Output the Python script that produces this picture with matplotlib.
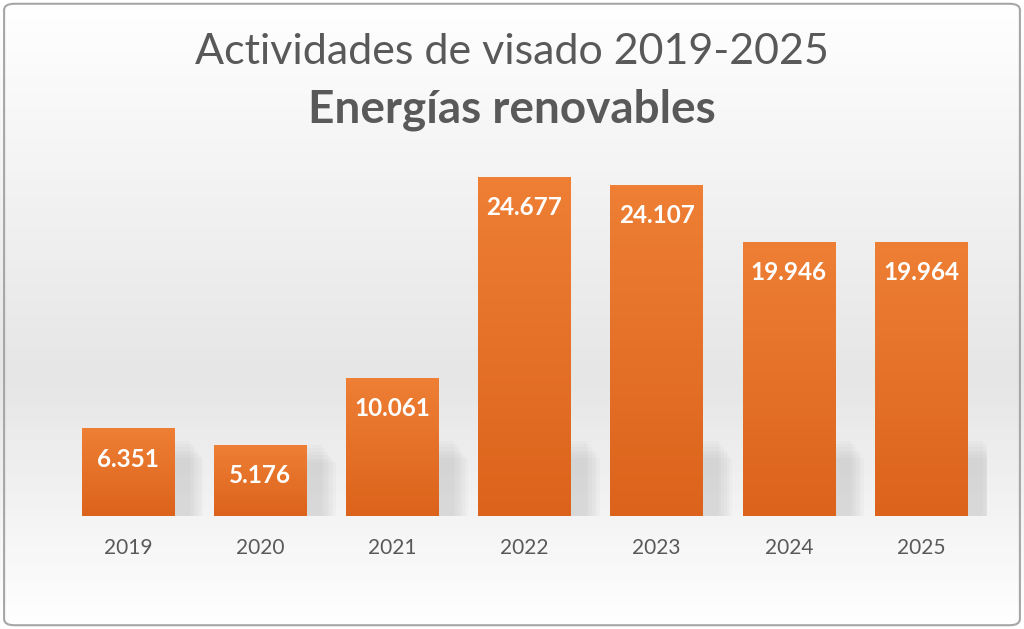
import matplotlib.pyplot as plt
import numpy as np
from matplotlib.patches import FancyBboxPatch, Rectangle
from matplotlib.colors import LinearSegmentedColormap

years = ["2019", "2020", "2021", "2022", "2023", "2024", "2025"]
visados = [6351, 5176, 10061, 24677, 24107, 19946, 19964]
labels = ["6.351", "5.176", "10.061", "24.677", "24.107", "19.946", "19.964"]

plt.rcParams["font.family"] = ["Lato", "DejaVu Sans"]
GRAY = "#595959"

fig = plt.figure(figsize=(10.24, 6.29), dpi=100)

# fondo con degradado gris suave
bg = fig.add_axes([0, 0, 1, 1], zorder=-10)
grad = np.concatenate([np.linspace(1.0, 0.0, 60), np.linspace(0.0, 1.0, 40)])[:, None]
bg_cmap = LinearSegmentedColormap.from_list("bg", ["#e6e6e6", "#ffffff"])
bg.imshow(grad, aspect="auto", cmap=bg_cmap, extent=[0, 1, 0, 1], origin="upper")
bg.set_xlim(0, 1)
bg.set_ylim(0, 1)
bg.axis("off")
bg.add_patch(FancyBboxPatch((0.004, 0.006), 0.992, 0.988,
                            boxstyle="round,pad=0,rounding_size=0.01",
                            fill=False, ec="#a6a6a6", lw=1.5,
                            transform=bg.transAxes))

ax = fig.add_axes([62 / 1024, 1 - 516 / 629, 925 / 1024, 370 / 629])
ax.patch.set_alpha(0)

x = np.arange(len(years))
width = 0.70
bar_cmap = LinearSegmentedColormap.from_list("bar", ["#ee7f35", "#dc631b"])

for xi, v, lab in zip(x, visados, labels):
    # sombra difusa detras de la barra
    for k in range(6):
        ax.add_patch(Rectangle((xi - width / 2 + 0.12 + k * 0.02, 0),
                               width, min(v, 5500) - k * 250,
                               fc="#9a9a9a", ec="none", alpha=0.05, zorder=1))
    ax.imshow(np.linspace(0, 1, 100)[:, None], cmap=bar_cmap, aspect="auto",
              extent=[xi - width / 2, xi + width / 2, 0, v], origin="upper",
              zorder=2)
    ax.text(xi, v - 2200, lab, ha="center", va="center", color="white",
            fontsize=17.5, fontweight="bold", zorder=3)

ax.set_xlim(-0.5, len(years) - 0.5)
ax.set_ylim(0, 27000)
ax.set_xticks(x)
ax.set_xticklabels(years, fontsize=15, color=GRAY)
ax.tick_params(axis="x", length=0, pad=16)
ax.set_yticks([])
for s in ax.spines.values():
    s.set_visible(False)

fig.text(0.5, 1 - 52 / 629, "Actividades de visado 2019-2025", ha="center",
         va="center", fontsize=31, color=GRAY)
fig.text(0.5, 1 - 110 / 629, "Energías renovables", ha="center",
         va="center", fontsize=33, fontweight="bold", color=GRAY)

fig.savefig("out.png", dpi=100)
